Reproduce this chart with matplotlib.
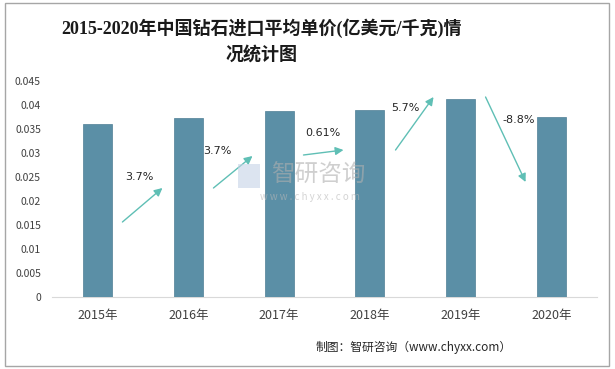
import matplotlib
matplotlib.use("Agg")
import matplotlib.pyplot as plt
from matplotlib.patches import Rectangle

plt.rcParams['font.family'] = ['Noto Sans CJK SC', 'DejaVu Sans']

categories = ['2015年', '2016年', '2017年', '2018年', '2019年', '2020年']
values = [0.0360, 0.0373, 0.0387, 0.0390, 0.0412, 0.0375]
growth_labels = ['3.7%', '3.7%', '0.61%', '5.7%', '-8.8%']
yticks = [0, 0.005, 0.01, 0.015, 0.02, 0.025, 0.03, 0.035, 0.04, 0.045]
ytick_labels = ['0', '0.005', '0.01', '0.015', '0.02', '0.025', '0.03', '0.035', '0.04', '0.045']

W, H = 615, 369
fig = plt.figure(figsize=(W / 100, H / 100), dpi=100)
ax = fig.add_axes([52 / W, 1 - 297 / H, (597 - 52) / W, (297 - 81) / H])

x = list(range(len(categories)))
ax.bar(x, values, width=0.32, color='#5b8fa6', edgecolor='#4f7f95', linewidth=0.5, zorder=3)
ax.set_xlim(-0.5, len(categories) - 0.5)
ax.set_ylim(0, 0.045)
ax.set_yticks(yticks)
ax.set_yticklabels(ytick_labels, fontsize=7.5, color='#404040')
ax.set_xticks(x)
ax.set_xticklabels(categories, fontsize=9, color='#404040')
ax.tick_params(axis='both', length=0)
ax.tick_params(axis='x', pad=9)
ax.tick_params(axis='y', pad=8)
for s in ['top', 'right', 'left']:
    ax.spines[s].set_visible(False)
ax.spines['bottom'].set_color('#d9d9d9')

def px2d(px, py):
    return ((px - 97) / 90.8, (297 - py) / 216 * 0.045)

arrows = [((122, 222), (162, 188), (139, 177)),
          ((213, 188), (252, 156), (217, 151)),
          ((303, 155), (343, 150), (322, 133)),
          ((395, 150), (433, 97), (405, 108)),
          ((485, 97), (525, 182), (518, 120))]
for (s, e, l), lab in zip(arrows, growth_labels):
    ax.annotate('', xy=px2d(*e), xytext=px2d(*s),
                arrowprops=dict(arrowstyle='-|>', color='#5fbfb5', lw=1.0,
                                mutation_scale=12, shrinkA=0, shrinkB=0),
                zorder=4, annotation_clip=False)
    lx, ly = px2d(*l)
    ax.text(lx, ly, lab, fontsize=8, ha='center', va='center', color='#262626',
            family=['DejaVu Sans'], zorder=5)

# watermark
fig.text(318 / W, 1 - 175 / H, '智研咨询', fontsize=17, color='#b0b0b0', alpha=0.6,
         ha='center', va='center', zorder=10)
fig.text(310 / W, 1 - 197 / H, 'w w w . c h y x x . c o m', fontsize=7, color='#b8b8b8',
         alpha=0.6, ha='center', va='center', zorder=10)
fig.patches.append(Rectangle((238 / W, 1 - 188 / H), 22 / W, 24 / H, transform=fig.transFigure,
                             facecolor='#c5d3e6', edgecolor='none', alpha=0.6, zorder=10))

title_font = ['Liberation Serif', 'Noto Sans CJK SC']
fig.text(261 / W, 1 - 28 / H, '2015-2020年中国钻石进口平均单价(亿美元/千克)情', fontsize=13,
         fontweight='bold', ha='center', va='center', color='#1a1a1a', family=title_font)
fig.text(261 / W, 1 - 55 / H, '况统计图', fontsize=13, fontweight='bold',
         ha='center', va='center', color='#1a1a1a', family=title_font)

fig.text(512 / W, 1 - 347 / H, '制图：智研咨询（www.chyxx.com）', fontsize=8.5,
         ha='right', va='center', color='#262626')

fig.patches.append(Rectangle((5 / W, 1 - 366 / H), 604 / W, 363 / H, transform=fig.transFigure,
                             facecolor='none', edgecolor='#a6a6a6', linewidth=1.0))

fig.savefig('out.png', dpi=100)
